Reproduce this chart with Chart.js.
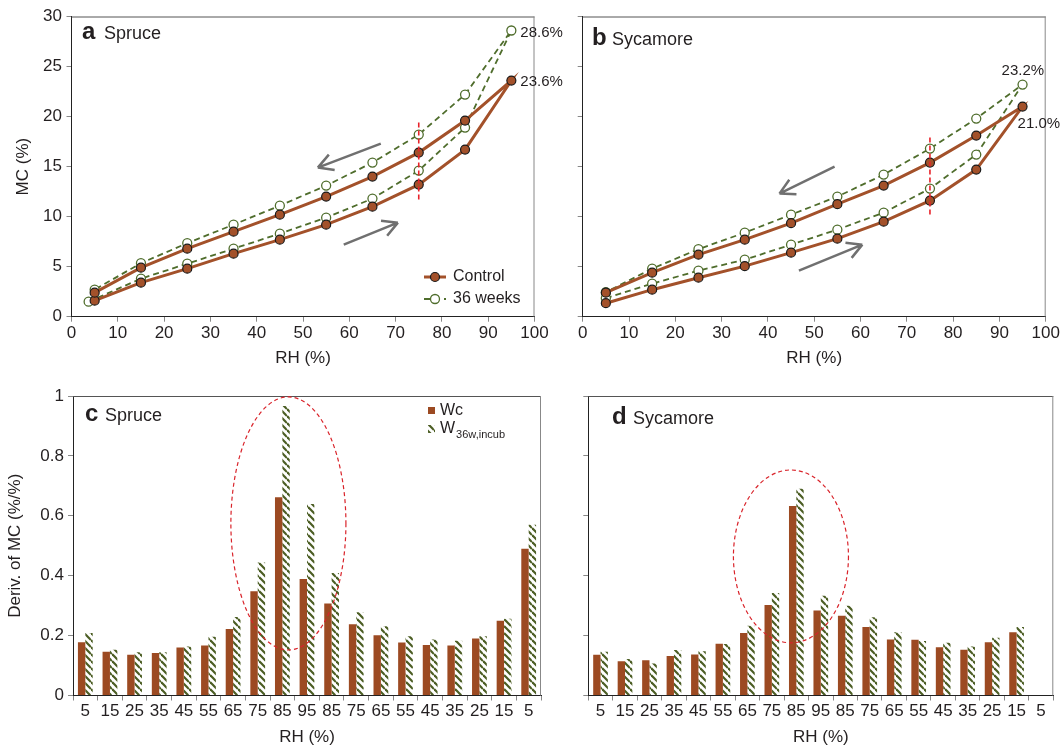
<!DOCTYPE html>
<html>
<head>
<meta charset="utf-8">
<script src="https://cdn.jsdelivr.net/npm/chart.js@4.4.1/dist/chart.umd.min.js"></script>
<style>
  body { margin: 0; background: #fff; width: 1062px; height: 748px; position: relative; overflow: hidden; }
  canvas { position: absolute; }
</style>
</head>
<body>
<canvas id="chartA" width="580" height="374" style="left:0;top:0"></canvas>
<canvas id="chartB" width="517" height="374" style="left:545px;top:0"></canvas>
<canvas id="chartC" width="560" height="374" style="left:0;top:374px"></canvas>
<canvas id="chartD" width="502" height="374" style="left:560px;top:374px"></canvas>
<script>
// sorption isotherms (MC %)
const rhAds = [5, 15, 25, 35, 45, 55, 65, 75, 85, 95];
const rhDes = [85, 75, 65, 55, 45, 35, 25, 15, 5];
const rhSpruce36Ads = [3.7, 15, 25, 35, 45, 55, 65, 75, 85, 95];

const spruceCtrlAds = [1.6, 3.4, 4.8, 6.3, 7.7, 9.2, 11.0, 13.2, 16.7, 23.6];
const spruceCtrlDes = [19.6, 16.4, 14.0, 12.0, 10.2, 8.5, 6.8, 4.9, 2.4];
const spruce36Ads = [1.5, 3.8, 5.3, 6.8, 8.3, 9.9, 11.8, 14.6, 18.9, 28.6];
const spruce36Des = [22.2, 18.2, 15.4, 13.1, 11.1, 9.2, 7.35, 5.35, 2.7];

const sycCtrlAds = [1.35, 2.7, 3.9, 5.05, 6.4, 7.8, 9.5, 11.6, 14.7, 21.0];
const sycCtrlDes = [18.1, 15.4, 13.1, 11.25, 9.35, 7.7, 6.2, 4.4, 2.4];
const syc36Ads = [1.85, 3.3, 4.6, 5.7, 7.2, 8.7, 10.4, 12.8, 16.2, 23.2];
const syc36Des = [19.8, 16.8, 14.2, 12.0, 10.2, 8.4, 6.75, 4.8, 2.45];

// derivative of MC, ads 5->95 then des 85->5
const rhSteps = ['5','15','25','35','45','55','65','75','85','95','85','75','65','55','45','35','25','15','5'];
const spruceWc  = [0.178,0.146,0.136,0.142,0.160,0.167,0.222,0.348,0.662,0.389,0.307,0.238,0.201,0.177,0.169,0.167,0.190,0.250,0.490];
const spruceW36 = [0.209,0.153,0.144,0.144,0.164,0.196,0.262,0.444,0.967,0.639,0.409,0.278,0.231,0.198,0.187,0.183,0.198,0.256,0.570];
const sycWc  = [0.136,0.114,0.118,0.132,0.137,0.173,0.209,0.302,0.633,0.284,0.266,0.229,0.187,0.186,0.161,0.153,0.178,0.211,null];
const sycW36 = [0.146,0.122,0.107,0.152,0.148,0.172,0.233,0.342,0.690,0.333,0.300,0.261,0.211,0.182,0.176,0.164,0.193,0.229,null];

const txt = '#231f20';
const brown = '#a3512a';
const barBrown = '#9c4a22';
const green = '#4f6d2c';
const hatchGreen = '#4b5d23';

Chart.defaults.font.family = '"Liberation Sans", Arial, Helvetica, sans-serif';
Chart.defaults.color = txt;

function loop(rhA, a, rhD, d) {
  const pts = rhA.map((x, i) => ({ x: x, y: a[i] }));
  return pts.concat(rhD.map((x, i) => ({ x: x, y: d[i] })));
}

// hatch pattern for the 36w bars
const pc = document.createElement('canvas');
pc.width = 7; pc.height = 7;
const pctx = pc.getContext('2d');
pctx.strokeStyle = hatchGreen;
pctx.lineWidth = 2.2;
for (const c of [-7, 0, 7]) {
  pctx.beginPath(); pctx.moveTo(0, c); pctx.lineTo(7, c + 7); pctx.stroke();
}
const hatch = pctx.createPattern(pc, 'repeat');

// decorations per panel
const decoMap = {
  chartA: {
    letter: 'a', name: 'Spruce', lx: 10.5, nx: 32.5, by: 39.3,
    arrows: [[66.8, 17.3, 53.2, 14.9], [58.8, 7.2, 70.5, 9.4]],
    vline: [75, 11.4, 19.4],
    values: [[95, 28.6, '28.6%', 9, 2], [95, 23.6, '23.6%', 9, 1]],
    lineLegend: true
  },
  chartB: {
    letter: 'b', name: 'Sycamore', lx: 9.3, nx: 29.3, by: 44.5,
    arrows: [[54.4, 15.0, 42.5, 12.3], [46.7, 4.6, 60.4, 7.2]],
    vline: [75, 10.0, 17.9],
    values: [[95, 23.2, '23.2%', -21, -13.5], [95, 21.0, '21.0%', -5, 17]]
  },
  chartC: {
    letter: 'c', name: 'Spruce', lx: 12, nx: 32, by: 420.7 - 374,
    ellipse: [5.91, 10.58, 0.152, 0.997],
    barLegend: true
  },
  chartD: {
    letter: 'd', name: 'Sycamore', lx: 23.7, nx: 44.7, by: 424 - 374,
    ellipse: [5.43, 10.13, 0.176, 0.753]
  }
};

function drawArrow(ctx, x0, y0, x1, y1) {
  const a = Math.atan2(y1 - y0, x1 - x0);
  ctx.beginPath();
  ctx.moveTo(x0, y0); ctx.lineTo(x1, y1);
  for (const s of [-1, 1]) {
    ctx.moveTo(x1, y1);
    ctx.lineTo(x1 - 17 * Math.cos(a + s * 0.5), y1 - 17 * Math.sin(a + s * 0.5));
  }
  ctx.stroke();
}

const decoPlugin = {
  id: 'deco',
  afterDatasetsDraw(chart) {
    const d = decoMap[chart.canvas.id];
    if (!d) return;
    const ctx = chart.ctx;
    const ca = chart.chartArea;
    const xs = chart.scales.x, ys = chart.scales.y;
    ctx.save();

    // top and right frame
    ctx.lineWidth = 1;
    ctx.strokeStyle = '#555';
    ctx.beginPath(); ctx.moveTo(ca.left, ca.top + 0.5); ctx.lineTo(ca.right, ca.top + 0.5); ctx.stroke();
    ctx.strokeStyle = '#888';
    ctx.beginPath(); ctx.moveTo(ca.right - 0.5, ca.top); ctx.lineTo(ca.right - 0.5, ca.bottom); ctx.stroke();

    // panel label
    ctx.fillStyle = txt;
    ctx.textBaseline = 'alphabetic';
    ctx.textAlign = 'left';
    ctx.font = 'bold 24px "Liberation Sans", Arial, sans-serif';
    ctx.fillText(d.letter, ca.left + d.lx, d.by);
    ctx.font = '18px "Liberation Sans", Arial, sans-serif';
    ctx.fillText(d.name, ca.left + d.nx, d.by);

    if (d.arrows) {
      ctx.strokeStyle = '#707070';
      ctx.lineWidth = 2.5;
      ctx.lineCap = 'butt';
      d.arrows.forEach(a => drawArrow(ctx, xs.getPixelForValue(a[0]), ys.getPixelForValue(a[1]),
        xs.getPixelForValue(a[2]), ys.getPixelForValue(a[3])));
    }
    if (d.vline) {
      const x = xs.getPixelForValue(d.vline[0]);
      ctx.strokeStyle = '#e8232a';
      ctx.lineWidth = 1.6;
      ctx.setLineDash([5, 3]);
      ctx.beginPath(); ctx.moveTo(x, ys.getPixelForValue(d.vline[2])); ctx.lineTo(x, ys.getPixelForValue(d.vline[1])); ctx.stroke();
      ctx.setLineDash([]);
    }
    if (d.values) {
      ctx.font = '15px "Liberation Sans", Arial, sans-serif';
      ctx.fillStyle = txt;
      ctx.textBaseline = 'middle';
      d.values.forEach(v => ctx.fillText(v[2], xs.getPixelForValue(v[0]) + v[3], ys.getPixelForValue(v[1]) + v[4]));
    }
    if (d.lineLegend) {
      const items = chart.data.datasets;
      items.forEach((ds, i) => {
        const y = 277 + i * 22;
        const x0 = ca.right - 110.5, x1 = ca.right - 88.5;
        ctx.strokeStyle = ds.borderColor;
        ctx.lineWidth = ds.borderWidth;
        ctx.setLineDash(ds.borderDash || []);
        ctx.beginPath(); ctx.moveTo(x0, y); ctx.lineTo(x1, y); ctx.stroke();
        ctx.setLineDash([]);
        ctx.beginPath(); ctx.arc((x0 + x1) / 2, y, ds.pointRadius, 0, Math.PI * 2);
        ctx.fillStyle = ds.pointBackgroundColor; ctx.fill();
        ctx.strokeStyle = ds.pointBorderColor; ctx.lineWidth = ds.pointBorderWidth; ctx.stroke();
        ctx.fillStyle = txt;
        ctx.font = '16px "Liberation Sans", Arial, sans-serif';
        ctx.textBaseline = 'middle';
        ctx.fillText(ds.label, ca.right - 81.5, y);
      });
    }
    if (d.ellipse) {
      const e = d.ellipse;
      const xl = xs.getPixelForValue(e[0]), xr = xs.getPixelForValue(e[1]);
      const yb = ys.getPixelForValue(e[2]), yt = ys.getPixelForValue(e[3]);
      ctx.strokeStyle = '#d9232a';
      ctx.lineWidth = 1.2;
      ctx.setLineDash([4, 3]);
      ctx.beginPath();
      ctx.ellipse((xl + xr) / 2, (yt + yb) / 2, (xr - xl) / 2, (yb - yt) / 2, 0, 0, Math.PI * 2);
      ctx.stroke();
      ctx.setLineDash([]);
    }
    if (d.barLegend) {
      const lx = ca.left + 355;
      ctx.fillStyle = barBrown;
      ctx.fillRect(lx, 33, 7, 7);
      ctx.fillStyle = hatch;
      ctx.fillRect(lx, 51, 7, 8);
      ctx.fillStyle = txt;
      ctx.textBaseline = 'middle';
      ctx.font = '16px "Liberation Sans", Arial, sans-serif';
      ctx.fillText('Wc', lx + 12, 36.5);
      ctx.fillText('W', lx + 12, 55);
      const ww = ctx.measureText('W').width;
      ctx.font = '11px "Liberation Sans", Arial, sans-serif';
      ctx.fillText('36w,incub', lx + 12 + ww + 1, 61);
    }
    ctx.restore();
  }
};

function axisFont() { return { size: 17 }; }

function lineChart(id, ctrl, w36, yWidth, padRight, showY) {
  return new Chart(document.getElementById(id), {
    type: 'scatter',
    data: {
      datasets: [{
        label: 'Control', data: ctrl, showLine: true,
        borderColor: brown, borderWidth: 3,
        pointRadius: 4.5, pointBackgroundColor: brown, pointBorderColor: '#1a1a1a', pointBorderWidth: 1.2
      }, {
        label: '36 weeks', data: w36, showLine: true,
        borderColor: green, borderWidth: 1.8, borderDash: [6, 4],
        pointRadius: 4.5, pointBackgroundColor: '#ffffff', pointBorderColor: green, pointBorderWidth: 1.3
      }]
    },
    options: {
      responsive: false, animation: false,
      layout: { padding: { top: 16.5, right: padRight, left: 0, bottom: 0 } },
      plugins: { legend: { display: false }, tooltip: { enabled: false } },
      scales: {
        x: {
          type: 'linear', min: 0, max: 100,
          ticks: { stepSize: 10, font: axisFont(), color: txt, padding: 1, maxRotation: 0 },
          grid: { drawOnChartArea: false, tickLength: 5, tickColor: '#888' },
          border: { color: '#222' },
          title: { display: true, text: 'RH (%)', font: axisFont(), color: txt, padding: { top: 0, bottom: 5.8 } },
          afterFit(s) { s.height = 57.3; }
        },
        y: {
          min: 0, max: 30,
          ticks: { stepSize: 5, font: axisFont(), color: txt, padding: 4.5, display: showY },
          grid: { drawOnChartArea: false, tickLength: 5, tickColor: '#888' },
          border: { color: '#222' },
          title: { display: showY, text: 'MC (%)', font: axisFont(), color: txt, padding: { top: 12.8, bottom: 0 } },
          afterFit(s) { s.width = yWidth; }
        }
      }
    },
    plugins: [decoPlugin]
  });
}

function barChart(id, wc, w36, yWidth, padRight, showY) {
  return new Chart(document.getElementById(id), {
    type: 'bar',
    data: {
      labels: rhSteps,
      datasets: [{
        label: 'Wc', data: wc, backgroundColor: barBrown, borderWidth: 0
      }, {
        label: 'W36w,incub', data: w36, backgroundColor: hatch, borderWidth: 0
      }]
    },
    options: {
      responsive: false, animation: false,
      categoryPercentage: 0.6, barPercentage: 1.0,
      layout: { padding: { top: 22, right: padRight, left: 0, bottom: 0 } },
      plugins: { legend: { display: false }, tooltip: { enabled: false } },
      scales: {
        x: {
          ticks: { font: axisFont(), color: txt, padding: 1, autoSkip: false, maxRotation: 0 },
          grid: { drawOnChartArea: false, tickLength: 5, tickColor: '#888', offset: true },
          border: { color: '#222' },
          title: { display: true, text: 'RH (%)', font: axisFont(), color: txt, padding: { top: 0, bottom: 0 } },
          afterFit(s) { s.height = 52.5; }
        },
        y: {
          min: 0, max: 1,
          ticks: {
            stepSize: 0.2, font: axisFont(), color: txt, padding: 4, display: showY,
            callback: v => String(Math.round(v * 10) / 10)
          },
          grid: { drawOnChartArea: false, tickLength: 5, tickColor: '#888' },
          border: { color: '#222' },
          title: { display: showY, text: 'Deriv. of MC (%/%)', font: axisFont(), color: txt, padding: { top: 5.3, bottom: 0 } },
          afterFit(s) { s.width = yWidth; }
        }
      }
    },
    plugins: [decoPlugin]
  });
}

lineChart('chartA', loop(rhAds, spruceCtrlAds, rhDes, spruceCtrlDes), loop(rhSpruce36Ads, spruce36Ads, rhDes, spruce36Des), 71.5, 45.5, true);
lineChart('chartB', loop(rhAds, sycCtrlAds, rhDes, sycCtrlDes), loop(rhAds, syc36Ads, rhDes, syc36Des), 37.7, 16.3, false);
barChart('chartC', spruceWc, spruceW36, 73, 19, true);
barChart('chartD', sycWc, sycW36, 28.3, 8.7, false);
</script>
</body>
</html>
